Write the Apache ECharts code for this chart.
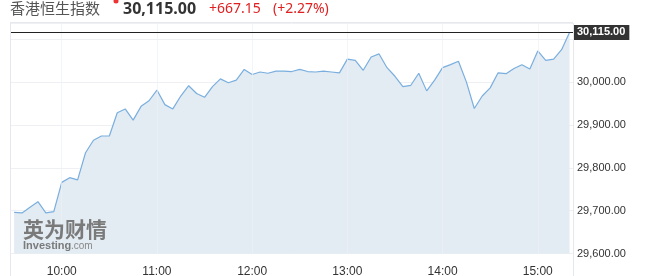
<!DOCTYPE html>
<html><head><meta charset="utf-8">
<script src="https://cdn.jsdelivr.net/npm/echarts@6/dist/echarts.min.js"></script>
<style>html,body{margin:0;padding:0;background:#fff}#c{width:650px;height:276px}</style>
</head><body><div id="c"></div>
<script>
const times = ["09:30","09:35","09:40","09:45","09:50","09:55","10:00","10:05","10:10","10:15","10:20","10:25",
"10:30","10:35","10:40","10:45","10:50","10:55","11:00","11:05","11:10","11:15","11:20","11:25",
"11:30","11:35","11:40","11:45","11:50","11:55","12:00","12:05","12:10","12:15","12:20","12:25",
"12:30","12:35","12:40","12:45","12:50","12:55","13:00","13:05","13:10","13:15","13:20","13:25",
"13:30","13:35","13:40","13:45","13:50","13:55","14:00","14:05","14:10","14:15","14:20","14:25",
"14:30","14:35","14:40","14:45","14:50","14:55","15:00","15:05","15:10","15:15","15:20"];
const values = [29696,29695,29708,29721,29695,29698,29766,29777,29772,29835,29864,29874,
29874,29928,29937,29911,29943,29956,29981,29947,29937,29967,29991,29973,
29964,29989,30007,29998,30004,30029,30017,30023,30020,30025,30025,30024,
30029,30024,30023,30025,30023,30021,30053,30050,30027,30058,30065,30033,
30013,29989,29992,30020,29979,30004,30033,30040,30048,30000,29938,29967,
29986,30021,30019,30031,30040,30030,30072,30050,30053,30075,30115];
const hourLabels = ["10:00","11:00","12:00","13:00","14:00","15:00"];
const yTickLabels = [29600,29700,29800,29900,30000];
const lastValue = 30115;
const titleName = "香港恒生指数";
const titlePrice = "30,115.00";
const titleChange = "+667.15";
const titlePct = "(+2.27%)";

const toMin = s => { const [h,m] = s.split(':').map(Number); return h*60+m; };
const data = times.map((t,i)=>[toMin(t), values[i]]);
const hourMins = hourLabels.map(toMin);
const fmt = v => v.toLocaleString('en-US',{minimumFractionDigits:2,maximumFractionDigits:2});

const chart = echarts.init(document.getElementById('c'));
chart.setOption({
  animation:false,
  backgroundColor:'#fff',
  grid:{left:10,right:77,top:23,bottom:22.3,containLabel:false,outerBoundsMode:'none'},
  xAxis:{type:'value',min:567.4,max:922.2,
    axisLine:{show:false},axisTick:{show:false},splitLine:{show:false},
    axisLabel:{customValues:hourMins,formatter:v=>{const h=Math.floor(v/60),m=v%60;return h+':'+String(m).padStart(2,'0');},
      color:'#333',fontSize:12,fontFamily:'Liberation Sans, Arial',margin:12}},
  yAxis:{type:'value',position:'right',min:29600,max:30137,interval:100,
    axisLine:{show:false},axisTick:{show:false},
    splitLine:{lineStyle:{color:'#eef0f3',width:1}},
    axisLabel:{customValues:yTickLabels,formatter:v=>fmt(v),color:'#333',fontSize:11,fontFamily:'Liberation Sans, Arial',margin:4}},
  series:[{
    type:'line',data:data,symbol:'none',
    lineStyle:{color:'#7aaede',width:1.2},
    areaStyle:{color:'#e3ecf3',opacity:1},
    z:2,
    markLine:{silent:true,symbol:'none',animation:false,
      data:[
        ...hourMins.map(m=>({xAxis:m,lineStyle:{color:'rgba(238,241,245,0.7)',width:1,type:'solid'},label:{show:false}})),
        {yAxis:lastValue,lineStyle:{color:'#222',width:1.2,type:'solid'},
         label:{show:true,position:'end',formatter:()=>fmt(lastValue),color:'#fff',backgroundColor:'#333',
           fontWeight:'bold',fontSize:11,fontFamily:'Liberation Sans, Arial',padding:[2,4,2,4],distance:0}}
      ]}
  }],
  graphic:[
    {type:'line',z:100,shape:{x1:10.5,y1:23,x2:10.5,y2:276},style:{stroke:'#e6e8ee',lineWidth:1},silent:true},
    {type:'line',z:100,shape:{x1:573.5,y1:23,x2:573.5,y2:276},style:{stroke:'#e6e8ee',lineWidth:1},silent:true},
    {type:'line',z:100,shape:{x1:10,y1:22.5,x2:573,y2:22.5},style:{stroke:'#e6e8ee',lineWidth:1},silent:true},
    {type:'text',z:100,left:10,top:1,style:{text:titleName,fill:'#555',font:'15px "Noto Sans CJK SC"'}},
    {type:'circle',z:100,shape:{cx:116,cy:1,r:2.5},style:{fill:'#e33'}},
    {type:'text',z:100,left:123,top:1,style:{text:titlePrice,fill:'#333',font:'bold 16px "Noto Sans"'}},
    {type:'text',z:100,left:209,top:2,style:{text:titleChange,fill:'#e02020',font:'14px "Noto Sans"'}},
    {type:'text',z:100,left:273,top:2,style:{text:titlePct,fill:'#e02020',font:'14px "Noto Sans"'}},
    {type:'text',z:100,x:23,y:219,style:{text:'英为财情',fill:'#7a7a7a',font:'bold 21px "Noto Sans CJK SC"'}},
    {type:'text',z:100,x:23,y:240,style:{text:'Investing',fill:'#7a7a7a',font:'bold 11px "Liberation Sans"'}},
    {type:'text',z:100,x:71,y:241,style:{text:'.com',fill:'#888',font:'10px "Liberation Sans"'}}
  ]
});
</script></body></html>
